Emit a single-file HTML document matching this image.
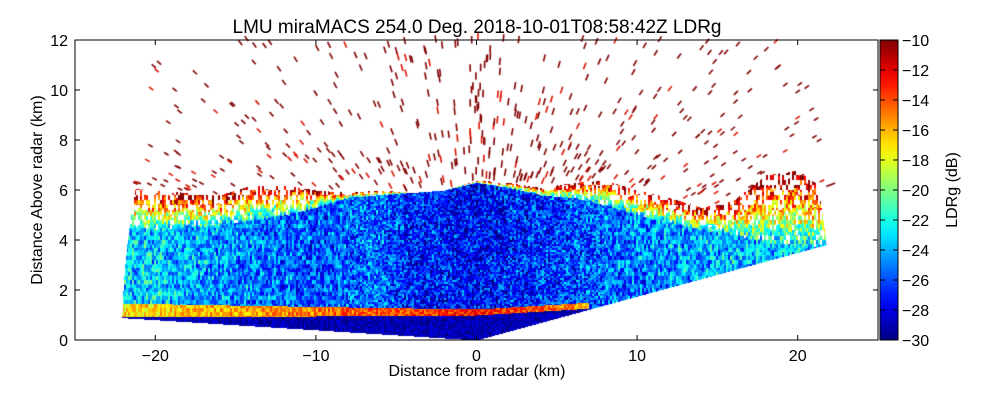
<!DOCTYPE html>
<html><head><meta charset="utf-8"><style>
body{margin:0;background:#fff;width:1000px;height:400px;overflow:hidden;font-family:"Liberation Sans",sans-serif}
#wrap{position:relative;width:1000px;height:400px}
canvas{position:absolute;left:0;top:0}
svg{position:absolute;left:0;top:0}
</style></head><body>
<div id="wrap">
<canvas id="cv" width="1000" height="400"></canvas>
<svg id="sv" width="1000" height="400"></svg>
</div>
<script>
// ---- data (km / dB) ----
const profX   = [-22,-20,-18,-16,-14,-12,-10,-8,-6,-4,-2,0,2,4,6,8,10,12,14,16,18,20,21.7];
const cloudTop= [6.1,6.0,5.9,5.8,6.2,6.2,6.0,5.9,6.0,5.9,6.0,6.4,6.3,6.1,6.3,6.4,6.0,5.7,5.3,5.6,6.6,6.8,6.0];
const blueTop = [4.6,4.4,4.5,4.6,4.8,5.0,5.3,5.7,5.8,5.9,6.0,6.3,6.1,5.8,5.7,5.4,5.0,4.7,4.4,4.2,3.9,3.8,3.7];
const bodyVal = [-23.5,-23.5,-24,-24.5,-25,-25.5,-26,-25.5,-25.5,-27,-27,-27.5,-27,-26.5,-26,-25.5,-25,-24.5,-24,-24,-23.5,-23.5,-23.5];
const stripeX = [-22,-10,0,6,7];
const stripeH = [1.2,1.15,1.12,1.35,1.4];
const stripeV = [-17,-15,-13,-15,-17];
const xTicks = [-20,-10,0,10,20];
const yTicks = [0,2,4,6,8,10,12];
const cbTicks = [-10,-12,-14,-16,-18,-20,-22,-24,-26,-28,-30];
const maxRange = 22.1, vmin=-30, vmax=-10;

const L=75,R=878,T=40,B=340;
const X=k=>L+(k+25)*(R-L)/50, Y=h=>B-h*(B-T)/12;
const iX=px=>(px-L)*50/(R-L)-25, iY=py=>(B-py)*12/(B-T);
function interp(xs,ys,x){if(x<=xs[0])return ys[0];for(let i=1;i<xs.length;i++)if(x<=xs[i]){const t=(x-xs[i-1])/(xs[i]-xs[i-1]);return ys[i-1]+t*(ys[i]-ys[i-1]);}return ys[ys.length-1];}
function jet(v){let t=(v-vmin)/(vmax-vmin);t=Math.max(0,Math.min(1,t));const c=a=>Math.round(255*Math.max(0,Math.min(1,1.5-Math.abs(4*t-a))));return [c(3),c(2),c(1)];}
function hash(a,b){let h=(a*374761393+b*668265263)|0;h=(h^(h>>>13))*1274126177|0;return ((h^(h>>>16))>>>0)/4294967296;}

const cv=document.getElementById('cv'),ctx=cv.getContext('2d');
const img=ctx.createImageData(1000,400);
const angL=Math.atan2(0.9,-22.2), angR=Math.atan2(3.8,21.7);
for(let py=T;py<B;py++)for(let px=L;px<R;px++){
  const x=iX(px),h=iY(py),r=Math.hypot(x,h),a=Math.atan2(h,x);
  if(r>maxRange||a>angL||a<angR)continue;
  const ct=interp(profX,cloudTop,x),bt=interp(profX,blueTop,x);
  const nz=hash(Math.floor(px/2),Math.floor(py/(x<-8||x>8?4:2)));
  const nz2=hash(Math.floor(px/2)+77,Math.floor(py/5));
  let v=null;
  const sh=x<7?interp(stripeX,stripeH,x):-1, sw=0.12+Math.max(0,-x)*0.007;
  if(x<7&&Math.abs(h-sh)<sw){v=interp(stripeX,stripeV,x)+(nz-0.5)*4;}
  else if(x<7&&h<sh){v=-29+(nz-0.5)*2;}
  else if(h<bt){v=interp(profX,bodyVal,x)+(nz-0.5)*5+(nz2-0.5)*3;}
  else if(h<ct){const f=(h-bt)/Math.max(0.1,ct-bt);if(nz2<0.1+f*0.45)continue;v=-23+f*13+(nz-0.5)*7;}
  else continue;
  const c=jet(v),o=(py*1000+px)*4;img.data[o]=c[0];img.data[o+1]=c[1];img.data[o+2]=c[2];img.data[o+3]=255;
}
ctx.putImageData(img,0,0);
// clutter dashes above cloud (radial streaks)
ctx.lineWidth=1.6;
for(let i=0;i<1700;i++){
  const rr=5+hash(i,7)*18,aa=0.25+hash(i,13)*2.65;
  const x=rr*Math.cos(aa),h=rr*Math.sin(aa);
  const ct=interp(profX,cloudTop,x);
  if(h>12||h<ct||Math.abs(x)>22.5)continue;
  if(h>ct+1.5&&hash(i,21)<0.45)continue;
  const dl=0.3;
  ctx.strokeStyle=hash(i,3)<0.8?'rgb(128,0,0)':'rgb(220,20,0)';
  ctx.beginPath();ctx.moveTo(X(x),Y(h));ctx.lineTo(X(x+dl*Math.cos(aa)),Y(h+dl*Math.sin(aa)));ctx.stroke();
}
// colorbar
const g=ctx.createLinearGradient(0,B,0,T);
for(let i=0;i<=20;i++){const c=jet(vmin+i);g.addColorStop(i/20,`rgb(${c})`);}
ctx.fillStyle=g;ctx.fillRect(880,T,18,B-T);

const sv=document.getElementById('sv');
function el(t,at,txt){const e=document.createElementNS('http://www.w3.org/2000/svg',t);for(const k in at)e.setAttribute(k,at[k]);if(txt!==undefined)e.textContent=txt;sv.appendChild(e);return e;}
let e=el('rect',{x:L,y:T,width:R-L,height:B-T,fill:'none',stroke:'#000','stroke-width':1});


xTicks.forEach(k=>{
  el('line',{x1:X(k),x2:X(k),y1:B,y2:B-5,stroke:'#000'});el('line',{x1:X(k),x2:X(k),y1:T,y2:T+5,stroke:'#000'});
  const t=el('text',{x:X(k),y:B+21,'font-size':16,'text-anchor':'middle'},(k<0?'\u2212':'')+Math.abs(k));
  
  
});
yTicks.forEach(k=>{
  el('line',{x1:L,x2:L+5,y1:Y(k),y2:Y(k),stroke:'#000'});el('line',{x1:R,x2:R-5,y1:Y(k),y2:Y(k),stroke:'#000'});
  const t=el('text',{x:L-7,y:Y(k)+6,'font-size':16,'text-anchor':'end'},k);
  
  
});
e=el('rect',{x:880,y:T,width:18,height:B-T,fill:'none',stroke:'#000'});


cbTicks.forEach(v=>{
  const y=B-(v-vmin)/(vmax-vmin)*(B-T);
  el('line',{x1:898,x2:893,y1:y,y2:y,stroke:'#000'});el('line',{x1:880,x2:885,y1:y,y2:y,stroke:'#000'});
  const t=el('text',{x:902,y:y+6,'font-size':16},'\u2212'+Math.abs(v));
  
  
});
e=el('text',{x:477,y:33,'font-size':19,'text-anchor':'middle'},'LMU miraMACS 254.0 Deg. 2018-10-01T08:58:42Z  LDRg');


e=el('text',{x:477,y:376,'font-size':16,'text-anchor':'middle'},'Distance from radar (km)');


e=el('text',{x:0,y:0,'font-size':16,'text-anchor':'middle',transform:'translate(42,190) rotate(-90)'},'Distance Above radar  (km)');


e=el('text',{x:0,y:0,'font-size':16,'text-anchor':'middle',transform:'translate(957,190) rotate(-90)'},'LDRg (dB)');


</script>
</body></html>
